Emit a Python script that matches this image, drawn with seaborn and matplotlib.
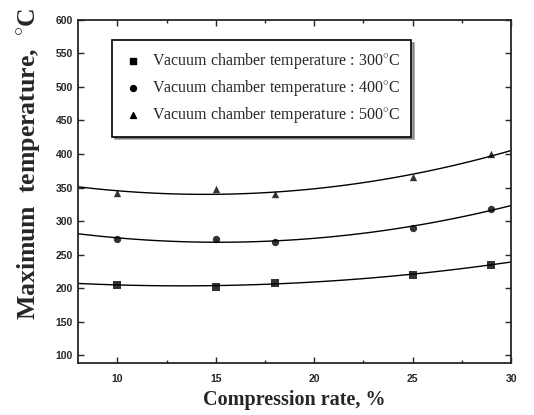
import numpy as np
import pandas as pd
import seaborn as sns
import matplotlib.pyplot as plt
from matplotlib.ticker import MultipleLocator

compression = [10, 15, 18, 25, 29]
temp_300 = [205, 202, 208, 220, 235]
temp_400 = [273, 273, 269, 289, 318]
temp_500 = [342, 348, 340, 365, 400]

series = {
    'Vacuum chamber temperature : 300$^{\\circ}$C': (temp_300, 's'),
    'Vacuum chamber temperature : 400$^{\\circ}$C': (temp_400, 'o'),
    'Vacuum chamber temperature : 500$^{\\circ}$C': (temp_500, '^'),
}

sns.set_style('ticks')
plt.rcParams['mathtext.fontset'] = 'custom'
plt.rcParams['mathtext.rm'] = 'Liberation Serif'

fig = plt.figure(figsize=(5.34, 4.15), dpi=100)
ax = fig.add_axes([0.146, 0.125, 0.811, 0.827])
ax.set_xlim(8, 30)
ax.set_ylim(88, 600)

for label, (vals, marker) in series.items():
    df = pd.DataFrame({'x': compression, 'y': vals})
    sns.regplot(data=df, x='x', y='y', order=2, ci=None, truncate=False, ax=ax,
                marker=marker, color='black',
                scatter_kws={'s': 28, 'linewidths': 0},
                line_kws={'lw': 1.0})
    ax.scatter([], [], marker=marker, color='black', s=18, label=label)

ax.set_xlim(8, 30)
ax.set_ylim(88, 600)
ax.xaxis.set_major_locator(MultipleLocator(5))
ax.xaxis.set_minor_locator(MultipleLocator(2.5))
ax.yaxis.set_major_locator(MultipleLocator(50))
ax.tick_params(which='both', direction='in', top=True, right=True, width=1)
ax.tick_params(which='major', length=4)
ax.tick_params(which='minor', length=2)
for lab in ax.get_xticklabels() + ax.get_yticklabels():
    lab.set_family('Liberation Sans')
    lab.set_fontweight('bold')
    lab.set_fontsize(7.5)
ax.tick_params(axis='x', pad=8)
for sp in ax.spines.values():
    sp.set_linewidth(1.3)

ax.set_xlabel('Compression rate, %', family='Liberation Serif', fontweight='bold', fontsize=14.5, labelpad=4)
ax.set_ylabel('Maximum  temperature,  $^{\\circ}$C', family='Liberation Serif', fontweight='bold',
              fontsize=18.5, labelpad=9)
ax.yaxis.label.set_y(0.58)

leg = ax.legend(loc='upper left', bbox_to_anchor=(0.06, 0.965), frameon=True, shadow=True, fancybox=False,
                prop={'family': 'Liberation Serif', 'size': 11.5}, handletextpad=0.6, handlelength=1.2,
                labelspacing=0.45, borderpad=0.7, scatterpoints=1)
leg.get_frame().set_edgecolor('black')
leg.get_frame().set_linewidth(1.2)

fig.savefig('out.png', dpi=100)
